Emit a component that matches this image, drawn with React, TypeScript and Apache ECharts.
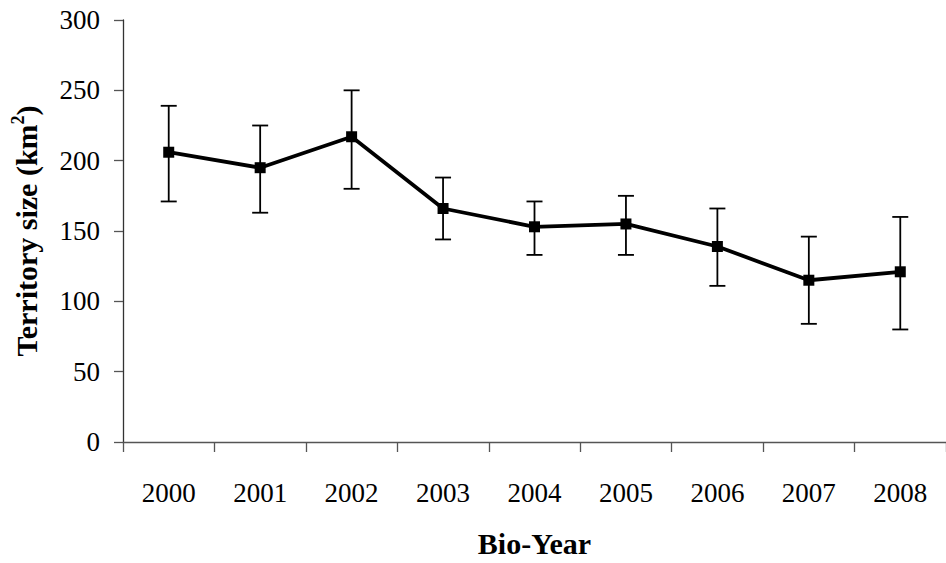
import React, { useEffect, useRef } from "react";
import * as echarts from "echarts";

// Bio-years on the category axis
const categories = ["2000", "2001", "2002", "2003", "2004", "2005", "2006", "2007", "2008"];
// Mean territory size (km²) per bio-year
const meanSize = [206, 195, 217, 166, 153, 155, 139, 115, 121];
// Error-bar extents (km²)
const errUpper = [239, 225, 250, 188, 171, 175, 166, 146, 160];
const errLower = [171, 163, 180, 144, 133, 133, 111, 84, 80];
// Value-axis ticks
const yTicks = [0, 50, 100, 150, 200, 250, 300];

const FONT = '"Liberation Serif", "Times New Roman", serif';

export default function App() {
  const ref = useRef<HTMLDivElement>(null);

  useEffect(() => {
    if (!ref.current) return;
    const chart = echarts.init(ref.current, null, { renderer: "svg" });

    const errData = categories.map((_, i) => [i, errLower[i], errUpper[i]]);

    chart.setOption({
      animation: false,
      backgroundColor: "#ffffff",
      grid: { left: 123, right: 0, top: 20, bottom: 117, containLabel: false },
      xAxis: {
        type: "category",
        data: categories,
        boundaryGap: true,
        name: "Bio-Year",
        nameLocation: "middle",
        nameGap: 86,
        nameTextStyle: { fontFamily: FONT, fontWeight: "bold", fontSize: 30, color: "#000" },
        axisLine: { lineStyle: { color: "#555", width: 1.3 } },
        axisTick: { show: true, length: 10, alignWithLabel: false, lineStyle: { color: "#555", width: 1.3 } },
        axisLabel: { fontFamily: FONT, fontSize: 27, color: "#000", margin: 37 },
        splitLine: { show: false },
      },
      yAxis: {
        type: "value",
        min: yTicks[0],
        max: yTicks[yTicks.length - 1],
        interval: 50,
        name: "{t|Territory size (km}{s|2}{t|)}",
        nameLocation: "middle",
        nameGap: 80,
        nameTextStyle: {
          rich: {
            t: { fontFamily: FONT, fontWeight: "bold", fontSize: 30, color: "#000", lineHeight: 34 },
            s: { fontFamily: FONT, fontWeight: "bold", fontSize: 18, color: "#000", lineHeight: 20, verticalAlign: "top" },
          },
        },
        axisLine: { show: true, lineStyle: { color: "#333", width: 1.3 } },
        axisTick: { show: true, length: 9, lineStyle: { color: "#555", width: 1.3 } },
        axisLabel: { fontFamily: FONT, fontSize: 27, color: "#000", margin: 23 },
        splitLine: { show: false },
      },
      series: [
        {
          type: "custom",
          z: 1,
          data: errData,
          encode: { x: 0, y: [1, 2] },
          renderItem: (params: any, api: any) => {
            const idx = api.value(0);
            const lo = api.coord([idx, api.value(1)]);
            const hi = api.coord([idx, api.value(2)]);
            const half = 8;
            const style = { stroke: "#000", lineWidth: 1.8 };
            return {
              type: "group",
              children: [
                { type: "line", shape: { x1: hi[0], y1: hi[1], x2: lo[0], y2: lo[1] }, style },
                { type: "line", shape: { x1: hi[0] - half, y1: hi[1], x2: hi[0] + half, y2: hi[1] }, style },
                { type: "line", shape: { x1: lo[0] - half, y1: lo[1], x2: lo[0] + half, y2: lo[1] }, style },
              ],
            };
          },
        },
        {
          type: "line",
          z: 3,
          data: meanSize,
          symbol: "rect",
          symbolSize: 11,
          lineStyle: { color: "#000", width: 3.8 },
          itemStyle: { color: "#000" },
        },
      ],
    });

    return () => chart.dispose();
  }, []);

  return (
    <div
      ref={ref}
      style={{ position: "absolute", left: 0, top: 0, width: 946, height: 563, background: "#fff" }}
    />
  );
}
